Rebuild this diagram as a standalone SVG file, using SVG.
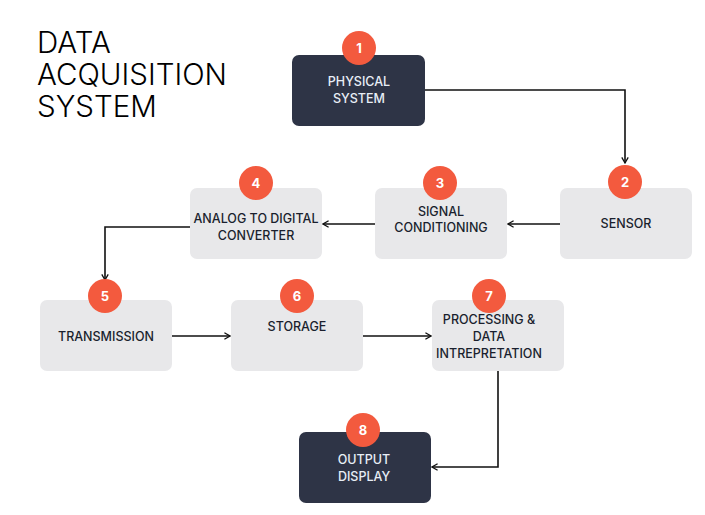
<svg xmlns="http://www.w3.org/2000/svg" width="705" height="515" viewBox="0 0 705 515">
<defs>
<marker id="arr" viewBox="0 0 10 10" refX="9" refY="5" markerWidth="8" markerHeight="8" orient="auto-start-reverse" markerUnits="userSpaceOnUse">
<path d="M2,1 L9,5 L2,9" fill="none" stroke="#111" stroke-width="1.6"/>
</marker>
</defs>
<style>
.dark{fill:#2E3446}
.light{fill:#E8E8EA}
.badge{fill:#F35A3E}
.bn{font-family:Inter,"Noto Sans",sans-serif;font-size:13px;font-weight:700;fill:#fff;text-anchor:middle}
.t{font-family:Inter,"Noto Sans",sans-serif;font-size:12.5px;font-weight:500;text-anchor:middle;fill:#1a1f2e}
.tw{fill:#E8EEF6}
.title{font-family:Inter,"Noto Sans",sans-serif;font-size:29.5px;font-weight:300;fill:#000}
.c{fill:none;stroke:#111;stroke-width:1.6}
</style>
<rect width="705" height="515" fill="#fff"/>
<text class="title" x="37" y="53">DATA</text>
<text class="title" x="37" y="85">ACQUISITION</text>
<text class="title" x="37" y="117">SYSTEM</text>
<g id="connectors">
<path class="c" d="M425,90 H625 V163" marker-end="url(#arr)"/>
<path class="c" d="M560,224 H508" marker-end="url(#arr)"/>
<path class="c" d="M375,224 H323" marker-end="url(#arr)"/>
<path class="c" d="M190,227 H105 V280" marker-end="url(#arr)"/>
<path class="c" d="M172,336 H230" marker-end="url(#arr)"/>
<path class="c" d="M363,336 H431" marker-end="url(#arr)"/>
<path class="c" d="M498,371 V467 H432" marker-end="url(#arr)"/>
</g>
<g id="node1">
<rect class="dark" x="292" y="55" width="133" height="71" rx="7"/>
<circle class="badge" cx="359" cy="48" r="17"/>
<text class="bn" x="359" y="53">1</text>
<text class="t tw" x="359" y="86">PHYSICAL</text>
<text class="t tw" x="359" y="103">SYSTEM</text>
</g>
<g id="node2">
<rect class="light" x="560" y="188" width="132" height="71" rx="7"/>
<circle class="badge" cx="625" cy="182" r="17"/>
<text class="bn" x="625" y="187">2</text>
<text class="t" x="626" y="228">SENSOR</text>
</g>
<g id="node3">
<rect class="light" x="375" y="188" width="132" height="71" rx="7"/>
<circle class="badge" cx="440" cy="183" r="17"/>
<text class="bn" x="440" y="188">3</text>
<text class="t" x="441" y="216">SIGNAL</text>
<text class="t" x="441" y="232">CONDITIONING</text>
</g>
<g id="node4">
<rect class="light" x="190" y="188" width="132" height="71" rx="7"/>
<circle class="badge" cx="256" cy="183" r="17"/>
<text class="bn" x="256" y="188">4</text>
<text class="t" x="256" y="223">ANALOG TO DIGITAL</text>
<text class="t" x="256" y="240">CONVERTER</text>
</g>
<g id="node5">
<rect class="light" x="40" y="300" width="132" height="71" rx="7"/>
<circle class="badge" cx="105" cy="296" r="17"/>
<text class="bn" x="105" y="301">5</text>
<text class="t" x="106" y="341">TRANSMISSION</text>
</g>
<g id="node6">
<rect class="light" x="231" y="300" width="132" height="71" rx="7"/>
<circle class="badge" cx="297" cy="296" r="17"/>
<text class="bn" x="297" y="301">6</text>
<text class="t" x="297" y="331">STORAGE</text>
</g>
<g id="node7">
<rect class="light" x="432" y="300" width="132" height="71" rx="7"/>
<circle class="badge" cx="489" cy="296" r="17"/>
<text class="bn" x="489" y="301">7</text>
<text class="t" x="489" y="324">PROCESSING &amp;</text>
<text class="t" x="489" y="341">DATA</text>
<text class="t" x="489" y="358">INTREPRETATION</text>
</g>
<g id="node8">
<rect class="dark" x="299" y="432" width="132" height="71" rx="7"/>
<circle class="badge" cx="363" cy="430" r="17"/>
<text class="bn" x="363" y="435">8</text>
<text class="t tw" x="364" y="464">OUTPUT</text>
<text class="t tw" x="364" y="481">DISPLAY</text>
</g>
</svg>
